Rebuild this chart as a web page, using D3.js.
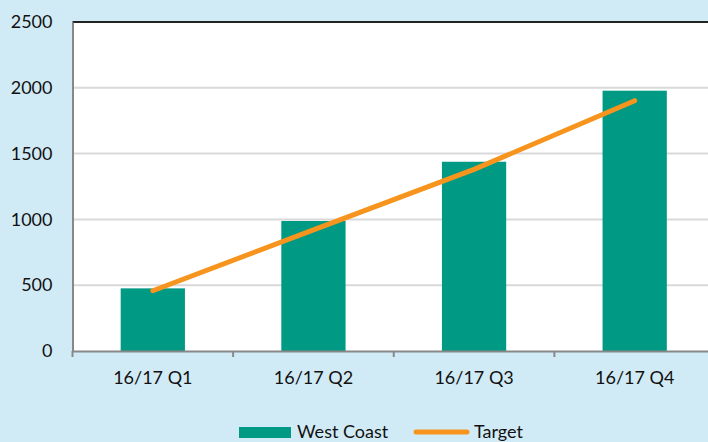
<!DOCTYPE html>
<html><head><meta charset="utf-8">
<script src="https://cdn.jsdelivr.net/npm/d3@7"></script>
<style>
html,body{margin:0;padding:0;background:#d1ebf6;}
svg{display:block;font-family:Lato,"Open Sans",sans-serif;}
</style></head>
<body>
<svg id="chart" width="708" height="442"></svg>
<script>
const categories = ["16/17 Q1","16/17 Q2","16/17 Q3","16/17 Q4"];
const westCoast = [476, 988, 1438, 1978];
const target = [458, 920, 1380, 1902];
const yTicks = [0, 500, 1000, 1500, 2000, 2500];
const seriesNames = ["West Coast", "Target"];

(function () {
const svg = d3.select("#chart");
const pLeft = 72.5, pRight = 715, pTop = 22, pBottom = 351;
const x = d3.scaleBand().domain(categories).range([pLeft, pRight]).paddingInner(0.6).paddingOuter(0.3);
const y = d3.scaleLinear().domain([0, 2500]).range([pBottom, pTop]);
const FONT = "Lato,'Open Sans',sans-serif";
const FS = "18px";

// plot background
svg.append("rect").attr("x", pLeft).attr("y", pTop).attr("width", pRight - pLeft).attr("height", pBottom - pTop).attr("fill", "#ffffff");

// gridlines
svg.append("g").selectAll("line").data(yTicks.filter(d => d > 0 && d < 2500)).join("line")
  .attr("x1", pLeft).attr("x2", pRight).attr("y1", d => y(d)).attr("y2", d => y(d))
  .attr("stroke", "#d9d9d9").attr("stroke-width", 2);

// top border
svg.append("line").attr("x1", pLeft).attr("x2", pRight).attr("y1", y(2500)).attr("y2", y(2500))
  .attr("stroke", "#222").attr("stroke-width", 2);

// bars
svg.append("g").selectAll("rect").data(categories).join("rect")
  .attr("x", d => x(d)).attr("width", x.bandwidth())
  .attr("y", (d, i) => y(westCoast[i])).attr("height", (d, i) => y(0) - y(westCoast[i]))
  .attr("fill", "#009984");

// y axis
const yAxis = d3.axisLeft(y).tickValues(yTicks).tickFormat(d3.format("d")).tickSize(0).tickPadding(20);
const gy = svg.append("g").attr("transform", `translate(${pLeft},0)`).call(yAxis);
gy.select(".domain").attr("stroke", "#888").attr("stroke-width", 2);
gy.selectAll("text").attr("font-size", FS).attr("fill", "#111").attr("font-family", FONT);

// x axis
const xBoundaries = d3.scaleLinear().domain([0, categories.length]).range([pLeft, pRight]);
const xAxis = d3.axisBottom(x).tickSize(0).tickPadding(20);
const gx = svg.append("g").attr("transform", `translate(0,${pBottom})`).call(xAxis);
gx.select(".domain").attr("stroke", "#888").attr("stroke-width", 2);
gx.selectAll("text").attr("font-size", FS).attr("fill", "#111").attr("font-family", FONT);
gx.append("g").selectAll("line").data(d3.range(categories.length + 1)).join("line")
  .attr("x1", d => xBoundaries(d)).attr("x2", d => xBoundaries(d)).attr("y1", 0).attr("y2", 6)
  .attr("stroke", "#888").attr("stroke-width", 2);

// target line
const line = d3.line().x((d, i) => x(categories[i]) + x.bandwidth() / 2).y(d => y(d));
svg.append("path").datum(target).attr("d", line).attr("fill", "none")
  .attr("stroke", "#f7941d").attr("stroke-width", 5).attr("stroke-linecap", "round").attr("stroke-linejoin", "round");

// legend
const lg = svg.append("g").attr("font-family", FONT).attr("font-size", FS).attr("fill", "#111");
lg.append("rect").attr("x", 239).attr("y", 427).attr("width", 52).attr("height", 11).attr("fill", "#009984");
lg.append("text").attr("x", 297).attr("y", 438).text(seriesNames[0]);
lg.append("line").attr("x1", 416).attr("x2", 467).attr("y1", 432).attr("y2", 432)
  .attr("stroke", "#f7941d").attr("stroke-width", 5).attr("stroke-linecap", "round");
lg.append("text").attr("x", 474).attr("y", 438).text(seriesNames[1]);
})();
</script>
</body></html>
